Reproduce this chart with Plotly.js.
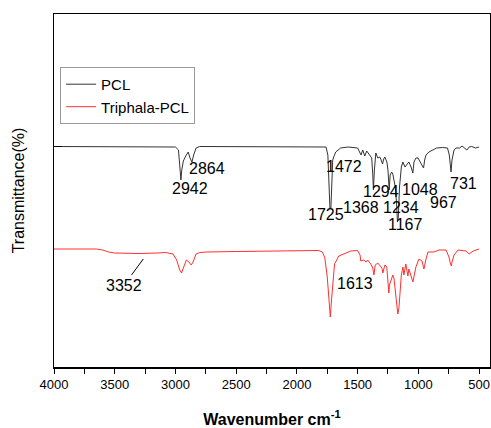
<!DOCTYPE html>
<html>
<head>
<meta charset="utf-8">
<script src="https://cdn.plot.ly/plotly-3.0.1.min.js"></script>
<style>html,body{margin:0;padding:0;background:#fff;}#chart{width:491px;height:428px;}</style>
</head>
<body>
<div id="chart"></div>
<script>
// PCL spectrum (wavenumber, transmittance arbitrary units)
const pclWn = [4000,3600,3100,3000,2975,2962,2955,2948,2935,2915,2895,2880,2864,2850,2830,2800,2500,2000,1800,1760,1745,1735,1728,1720,1712,1705,1697,1680,1640,1580,1500,1482,1472,1458,1441,1425,1408,1395,1384,1375,1370,1362,1350,1334,1318,1309,1295,1285,1276,1259,1250,1240,1232,1220,1210,1201,1190,1180,1172,1165,1155,1140,1127,1110,1094,1078,1060,1045,1036,1020,1003,985,957,948,937,913,880,850,800,760,745,731,723,706,690,660,640,620,600,582,560,530,500];
const pclT  = [220.5,220.5,220.5,220,217,200,187,197,206,211,215,209,205,212,219,220.5,220.5,220.5,220.5,220,212,182,159,159,182,207,210,215,219,220,219,215,212,217,211,216,213,211,209,192,177,197,214,209,210,208,203,208,210,205,197,177,192,195,193,187,180,165,145,150,180,200,205,200,203,205,200,194,205,209,209,205,199,207,212,215,217,219,219.5,219,212,195,207,217,219,219,221,219,217,220,220.5,219,220];

// Triphala-PCL spectrum
const triWn = [4000,3650,3600,3550,3500,3300,3150,3080,3020,2990,2965,2950,2935,2910,2890,2870,2855,2830,2800,2740,2500,2000,1820,1790,1770,1750,1735,1725,1715,1700,1690,1655,1614,1556,1500,1480,1474,1449,1430,1417,1392,1375,1366,1355,1334,1317,1300,1292,1276,1260,1250,1243,1238,1226,1210,1201,1190,1180,1169,1160,1152,1140,1127,1119,1103,1086,1078,1060,1045,1020,995,970,954,937,921,871,830,772,748,735,728,723,706,673,607,582,565,549,500];
const triT  = [118,118,117,115,114,113.5,114,114.5,113,107,97,94,99,107,105,102,105,113,114.5,115,115.5,116.5,116.5,115,109,90,62,50,67,92,103,111,113,116,116.5,112,106,107,105,107,103,99,92,102,104,102,99,94,102,100,87,74,82,87,92,89,77,62,53,59,70,92,100,92,103,91,98,92,85,100,108,106,98,108,115,115,117,117,110,103,101,105,112,117,116,113,115,116,118];

const seriesNames = ["PCL","Triphala-PCL"];
const xTickVals = [4000,3500,3000,2500,2000,1500,1000,500];

// peak labels: text, wavenumber, level
const peakText = ["2942","2864","1472","1725","1368","1294","1234","1048","967","731","1167","1613"];
const peakWn   = [2877,2737,1614,1763,1474,1309,1144,987,790,632,1103,1524];
const peakLvl  = [179,199,201,153,160,176,160,178,165,184,143,84];

const font = "Liberation Sans, Arial, sans-serif";

const annotations = peakText.map((t,i)=>({
  x: peakWn[i], y: peakLvl[i], xref:'x', yref:'y', text: t, showarrow:false,
  font:{family:font,size:16,color:'#000'}, borderpad:0
}));
annotations.push({
  x:3265, y:108, ax:3422, ay:82, axref:'x', ayref:'y', xref:'x', yref:'y',
  text:"3352", showarrow:true, arrowhead:0, arrowwidth:1, arrowcolor:'#000',
  font:{family:font,size:16,color:'#000'}
});

const data = [
  {x:pclWn, y:pclT, name:seriesNames[0], type:'scatter', mode:'lines', line:{color:'#333333', width:1}},
  {x:triWn, y:triT, name:seriesNames[1], type:'scatter', mode:'lines', line:{color:'#ff3030', width:1}}
];

const layout = {
  width:491, height:428,
  margin:{l:54, r:1, t:14, b:61},
  paper_bgcolor:'#fff', plot_bgcolor:'#fff',
  font:{family:font, color:'#000'},
  showlegend:true,
  legend:{x:0.014, y:0.85, xanchor:'left', yanchor:'top', bgcolor:'#fff',
          bordercolor:'#999', borderwidth:1, font:{family:font,size:15,color:'#000'},
          tracegroupgap:0, itemwidth:30},
  xaxis:{
    range:[4000,410], showgrid:false, zeroline:false,
    showline:true, linecolor:'#000', linewidth:1.5, mirror:true,
    tickvals:xTickVals, ticktext:xTickVals.map(String),
    ticks:'outside', ticklen:5, tickcolor:'#000', tickwidth:1,
    minor:{tickvals:[3750,3250,2750,2250,1750,1250,750], ticks:'outside', ticklen:5, tickcolor:'#000'},
    tickfont:{family:font,size:13,color:'#000'},
    title:{text:'<b>Wavenumber cm<sup>-1</sup></b>', font:{family:font,size:16,color:'#000'}, standoff:22},
    automargin:false
  },
  yaxis:{
    range:[0,353], showgrid:false, zeroline:false,
    showline:true, linecolor:'#000', linewidth:1.5, mirror:true,
    tickvals:[220.5], ticks:'inside', ticklen:8, tickcolor:'#000', showticklabels:false,
    title:{text:'Transmittance(%)', font:{family:font,size:16,color:'#000'}, standoff:24},
    automargin:false
  },
  annotations: annotations
};

Plotly.newPlot('chart', data, layout, {displayModeBar:false, staticPlot:true});
</script>
</body>
</html>
